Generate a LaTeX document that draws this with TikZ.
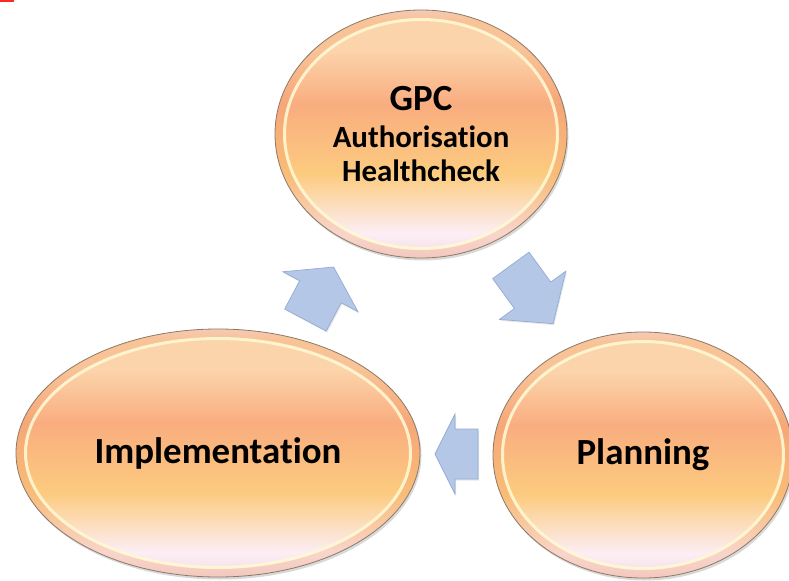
\documentclass[tikz,border=0pt]{standalone}
\usepackage{fontspec}
\setmainfont{Carlito}[Ligatures={NoCommon,NoContextual}]
\usepackage{xcolor}
\usetikzlibrary{shapes.geometric,shadows,calc}

\definecolor{pinktop}{HTML}{F8DED8}
\definecolor{peachlight}{HTML}{FCD4AB}
\definecolor{orangemid}{HTML}{F9AD7F}
\definecolor{golden}{HTML}{FCCB7F}
\definecolor{pinkwhite}{HTML}{FCEEF5}
\definecolor{pinkbot}{HTML}{F4DDE3}
\definecolor{rimline}{HTML}{8E7966}
\definecolor{rimcream}{HTML}{FFF8D2}
\definecolor{rimband}{HTML}{F29C6A}
\definecolor{arrowfill}{HTML}{B4C7E7}
\definecolor{arrowedge}{HTML}{93ABD4}

\pgfdeclareverticalshading{stageshade}{100bp}{color(0bp)=(pinkbot); color(25bp)=(pinkbot);
  color(30bp)=(pinkwhite); color(42bp)=(golden); color(56bp)=(orangemid);
  color(67bp)=(peachlight); color(73bp)=(peachlight); color(75bp)=(pinktop); color(100bp)=(pinktop)}

\begin{document}
\begin{tikzpicture}[x=1bp,y=-1bp,
    stage/.style={ellipse,inner sep=0pt,outer sep=0pt,shading=stageshade,
      draw=rimline,line width=0.8bp,
      drop shadow={shadow xshift=1.5bp,shadow yshift=-2.5bp,opacity=0.3},
      font=\bfseries\fontsize{37}{34}\selectfont,align=center,
      path picture={
        \draw[rimband,opacity=0.3,line width=9bp]
          let \p1=(path picture bounding box.north east),\p2=(path picture bounding box.center)
          in (\p2) ellipse [x radius=\x1-\x2-4bp,y radius=\y1-\y2-4bp];
        \draw[rimcream,opacity=0.9,line width=3bp]
          let \p1=(path picture bounding box.north east),\p2=(path picture bounding box.center)
          in (\p2) ellipse [x radius=\x1-\x2-9.5bp,y radius=\y1-\y2-9.5bp];
      }},
    flowarrowstyle/.style={fill=arrowfill,draw=arrowedge,line width=0.7bp,line join=miter,
      drop shadow={shadow xshift=1bp,shadow yshift=-1.5bp,opacity=0.2}},
    pics/flowarrow/.style n args={4}{code={
      % length, head length, half shaft, half head
      \draw[flowarrowstyle] ({-#1/2},{-#3}) -- ({#1/2-#2},{-#3}) -- ({#1/2-#2},{-#4})
        -- ({#1/2},0) -- ({#1/2-#2},{#4}) -- ({#1/2-#2},{#3}) -- ({-#1/2},{#3}) -- cycle;
    }}]

  \useasboundingbox (0,0) rectangle (789,581);
  \fill[red!85] (0,0) rectangle (14,2);

  % the three stages
  \node[stage,minimum width=292bp,minimum height=248bp] (gpc) at (421,134)
    {GPC\\[3bp]\fontsize{31}{34}\selectfont Authorisation\\\fontsize{31}{34}\selectfont Healthcheck};
  \node[stage,minimum width=404bp,minimum height=248bp] (impl) at (218,453) {Implementation};
  \node[stage,minimum width=300bp,minimum height=246bp] (plan) at (643,455) {Planning};

  % arrows of the cycle
  \coordinate (a1) at ($(impl)!0.5!(gpc)$);
  \coordinate (a2) at ($(gpc)!0.5!(plan)$);
  \coordinate (a3) at ($(impl.east)!0.5!(plan.west)$);
  \pic[rotate=62] at (a1) {flowarrow={60}{28}{23.5}{42.5}};
  \pic[rotate=-54] at (a2) {flowarrow={72}{35}{22.5}{41}};
  \pic[rotate=180] at (a3) {flowarrow={43}{20}{25}{40}};

\end{tikzpicture}
\end{document}
